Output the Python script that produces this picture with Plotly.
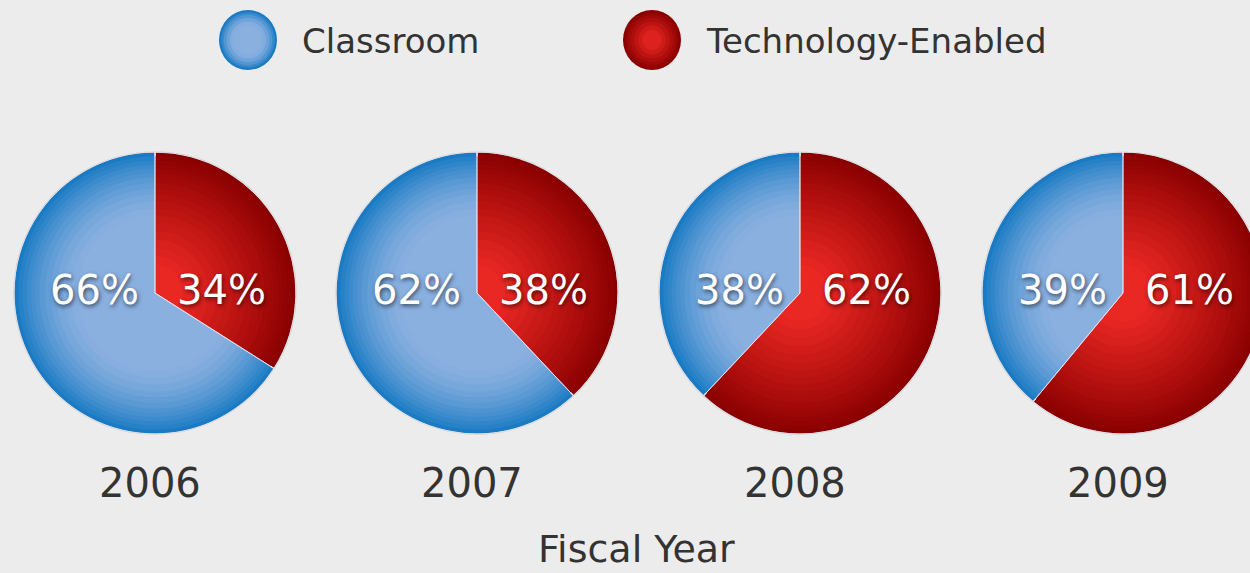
import plotly.graph_objects as go

# ── data ────────────────────────────────────────────────────────────────────
years = ["2006", "2007", "2008", "2009"]
series_names = ["Classroom", "Technology-Enabled"]
classroom = [66, 62, 38, 39]
tech_enabled = [34, 38, 62, 61]

# ── style ───────────────────────────────────────────────────────────────────
W, H = 1266, 573
FONT = "Verdana, DejaVu Sans, sans-serif"
BG = "#ececec"
TEXT = "#333333"
EDGE = {"Classroom": (26, 123, 196), "Technology-Enabled": (138, 0, 0)}
CENTER = {"Classroom": (138, 176, 224), "Technology-Enabled": (236, 40, 36)}

PIE_CX = [155, 477, 800, 1123]
PIE_CY = 293
PIE_R = 141
LAYERS = [1.0, 0.97, 0.94, 0.91, 0.88, 0.85, 0.82, 0.78, 0.74, 0.70,
          0.65, 0.60, 0.55, 0.50, 0.44, 0.38, 0.32, 0.26, 0.20]


def shade(name, f):
    """Radial colour: rim colour at f=1, centre colour toward the middle."""
    if name == "Classroom":
        t = max(0.0, min(1.0, (f - 0.55) / 0.45)) ** 1.6
    else:
        t = max(0.0, min(1.0, (f - 0.15) / 0.85)) ** 1.2
    a, b = CENTER[name], EDGE[name]
    r, g, bl = (round(a[i] + (b[i] - a[i]) * t) for i in range(3))
    return f"rgb({r},{g},{bl})"


def dom(cx, cy, r):
    return dict(x=[max(0, (cx - r) / W), min(1, (cx + r) / W)],
                y=[1 - (cy + r) / H, 1 - (cy - r) / H])


# slices go clockwise from 12 o'clock: Technology-Enabled first, then Classroom
slice_order = series_names[::-1]

fig = go.Figure()

for i, year in enumerate(years):
    by_name = {"Classroom": classroom[i], "Technology-Enabled": tech_enabled[i]}
    vals = [by_name[n] for n in slice_order]
    # stacked concentric pies fake the radial gradient
    for f in LAYERS:
        fig.add_trace(go.Pie(
            labels=slice_order, values=vals,
            sort=False, direction="clockwise", rotation=0,
            domain=dom(PIE_CX[i], PIE_CY, PIE_R * f),
            marker=dict(colors=[shade(n, f) for n in slice_order],
                        line=dict(width=1.2 if f == 1.0 else 0, color="#c8c8c8")),
            textinfo="none", hoverinfo="skip", showlegend=False,
        ))
    # top outline for slice separators
    fig.add_trace(go.Pie(
        labels=slice_order, values=vals,
        sort=False, direction="clockwise", rotation=0,
        domain=dom(PIE_CX[i], PIE_CY, PIE_R),
        marker=dict(colors=["rgba(0,0,0,0)"] * 2,
                    line=dict(width=1, color="rgba(235,235,245,0.75)")),
        textinfo="none", hovertemplate=f"{year}<br>%{{label}}: %{{value}}%<extra></extra>",
        showlegend=False,
    ))

    # percentage labels, left = Classroom, right = Technology-Enabled
    shadow = "1px 2px 4px rgba(0,0,0,0.6)"
    fig.add_annotation(x=(PIE_CX[i] - 14) / W, y=1 - 290 / H, xref="paper", yref="paper",
                       text=f"{classroom[i]}%", showarrow=False, xanchor="right", yanchor="middle",
                       font=dict(family=FONT, size=40, color="white", shadow=shadow))
    fig.add_annotation(x=(PIE_CX[i] + 20) / W, y=1 - 290 / H, xref="paper", yref="paper",
                       text=f"{tech_enabled[i]}%", showarrow=False, xanchor="left", yanchor="middle",
                       font=dict(family=FONT, size=40, color="white", shadow=shadow))
    # year label
    fig.add_annotation(x=(PIE_CX[i] - 5) / W, y=1 - 483 / H, xref="paper", yref="paper",
                       text=year, showarrow=False, xanchor="center", yanchor="middle",
                       font=dict(family=FONT, size=40, color=TEXT))

# axis-like title
fig.add_annotation(x=636 / W, y=1 - 549 / H, xref="paper", yref="paper",
                   text="Fiscal Year", showarrow=False, xanchor="center", yanchor="middle",
                   font=dict(family=FONT, size=38, color=TEXT))

# legend: shaded circles + labels
LEG_X, LEG_Y, LEG_RX, LEG_RY = [248, 652], 40, 29, 30
for name, lx in zip(series_names, LEG_X):
    for f in [1.0, 0.92, 0.84, 0.74, 0.62, 0.48, 0.34]:
        fig.add_shape(type="circle", xref="paper", yref="paper",
                      x0=(lx - LEG_RX * f) / W, x1=(lx + LEG_RX * f) / W,
                      y0=1 - (LEG_Y + LEG_RY * f) / H, y1=1 - (LEG_Y - LEG_RY * f) / H,
                      fillcolor=shade(name, f), line=dict(width=0))
    fig.add_annotation(x=(lx + 52) / W, y=1 - 41 / H, xref="paper", yref="paper",
                       text=name, showarrow=False, xanchor="left", yanchor="middle",
                       font=dict(family=FONT, size=34, color=TEXT))

fig.update_layout(
    width=W, height=H,
    margin=dict(l=0, r=0, t=0, b=0),
    paper_bgcolor=BG, plot_bgcolor=BG,
    showlegend=False,
)

fig.write_html(
    "out.html",
    config={"displayModeBar": False},
    post_script="document.body.style.margin='0';document.body.style.overflow='hidden';",
)
